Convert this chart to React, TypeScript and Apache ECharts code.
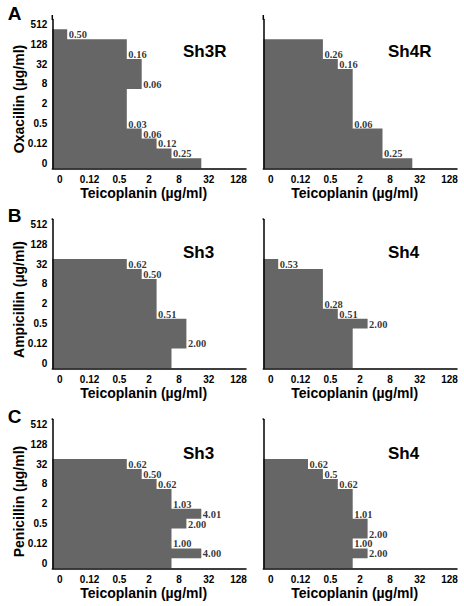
import React, { useEffect, useRef } from 'react';
import * as echarts from 'echarts';

// Axis categories (twofold dilutions, µg/ml)
const yCategories = ['0', '0.06', '0.12', '0.25', '0.5', '1', '2', '4', '8', '16', '32', '64', '128', '256', '512'];
const xCategories = ['0', '0.06', '0.12', '0.25', '0.5', '1', '2', '4', '8', '16', '32', '64', '128'];

// Growth extent per row (number of teicoplanin steps with growth), rows from bottom (0) to top (512)
const sh3rOxacillin = [10, 8, 7, 6, 5, 5, 5, 5, 6, 6, 6, 5, 5, 1, 0];
const sh4rOxacillin = [10, 8, 8, 8, 6, 6, 6, 6, 6, 6, 5, 4, 4, 0, 0];
const sh3Ampicillin = [8, 8, 9, 9, 9, 7, 7, 7, 7, 6, 5, 0, 0, 0, 0];
const sh4Ampicillin = [6, 6, 6, 6, 7, 5, 4, 4, 4, 4, 1, 0, 0, 0, 0];
const sh3Penicillin = [8, 10, 8, 8, 9, 10, 8, 8, 7, 6, 5, 0, 0, 0, 0];
const sh4Penicillin = [6, 7, 6, 7, 7, 6, 6, 6, 5, 4, 3, 0, 0, 0, 0];

// FIC index labels: [upper row index of the step, text]
const sh3rOxacillinFic: [number, string][] = [[13, '0.50'], [11, '0.16'], [8, '0.06'], [4, '0.03'], [3, '0.06'], [2, '0.12'], [1, '0.25']];
const sh4rOxacillinFic: [number, string][] = [[11, '0.26'], [10, '0.16'], [4, '0.06'], [1, '0.25']];
const sh3AmpicillinFic: [number, string][] = [[10, '0.62'], [9, '0.50'], [5, '0.51'], [2, '2.00']];
const sh4AmpicillinFic: [number, string][] = [[10, '0.53'], [6, '0.28'], [5, '0.51'], [4, '2.00']];
const sh3PenicillinFic: [number, string][] = [[10, '0.62'], [9, '0.50'], [8, '0.62'], [6, '1.03'], [5, '4.01'], [4, '2.00'], [2, '1.00'], [1, '4.00']];
const sh4PenicillinFic: [number, string][] = [[10, '0.62'], [9, '0.5'], [8, '0.62'], [5, '1.01'], [3, '2.00'], [2, '1.00'], [1, '2.00']];

const panelTitles = ['Sh3R', 'Sh4R', 'Sh3', 'Sh4', 'Sh3', 'Sh4'];
const rowLetters = ['A', 'B', 'C'];
const yTitles = ['Oxacillin (µg/ml)', 'Ampicillin (µg/ml)', 'Penicillin (µg/ml)'];
const xTitle = 'Teicoplanin (µg/ml)';

const panelData = [sh3rOxacillin, sh4rOxacillin, sh3Ampicillin, sh4Ampicillin, sh3Penicillin, sh4Penicillin];
const panelFic = [sh3rOxacillinFic, sh4rOxacillinFic, sh3AmpicillinFic, sh4AmpicillinFic, sh3PenicillinFic, sh4PenicillinFic];

const FILL = '#666666';
const SANS = 'Liberation Sans, Arial, sans-serif';
const SERIF = 'Liberation Serif, Times New Roman, serif';

function buildOption() {
  const colLeft = [52.3, 263.3];
  const rowTop = [19.4, 219.4, 419.4];
  const axisOvershoot = [4.4, 1, 1];
  const gw = 193.7;
  const gh = 148.9;
  const grid: any[] = [];
  const xAxis: any[] = [];
  const yAxis: any[] = [];
  const series: any[] = [];
  const graphic: any[] = [];

  panelData.forEach((data, i) => {
    const col = i % 2;
    const row = Math.floor(i / 2);
    const left = colLeft[col];
    const top = rowTop[row];
    grid.push({ left, top, width: gw, height: gh });
    xAxis.push({ type: 'value', gridIndex: i, min: 0, max: xCategories.length, show: false, position: 'top' });
    xAxis.push({
      type: 'category', gridIndex: i, data: xCategories, position: 'bottom', boundaryGap: true, z: 10,
      axisLine: { lineStyle: { color: '#000', width: 1.5 } },
      axisTick: { interval: 0, length: 4, lineStyle: { color: '#000', width: 1 } },
      axisLabel: { interval: 1, margin: 5, color: '#000', fontWeight: 'bold', fontSize: 10, fontFamily: SANS, lineHeight: 12 },
      splitLine: { show: false },
    });
    yAxis.push({
      type: 'category', gridIndex: i, data: yCategories, position: 'left', boundaryGap: true, z: 10,
      axisLine: { lineStyle: { color: '#000', width: 1.5 } },
      axisTick: { interval: 0, length: 3, lineStyle: { color: '#000', width: 1 } },
      axisLabel: { interval: 1, margin: 5, color: '#000', fontWeight: 'bold', fontSize: 10, fontFamily: SANS, show: col === 0 },
      splitLine: { show: false },
    });
    yAxis.push({ type: 'value', gridIndex: i, min: 0, max: yCategories.length, show: false, position: 'right' });

    series.push({
      type: 'custom', xAxisIndex: 2 * i, yAxisIndex: 2 * i + 1, silent: true, z: 2,
      data: data.map((v, r) => [v, r]),
      renderItem: (params: any, api: any) => {
        if (params.dataIndex !== 0) return null;
        const pts: number[][] = [api.coord([0, 0])];
        data.forEach((v, r) => {
          pts.push(api.coord([v, r]));
          pts.push(api.coord([v, r + 1]));
        });
        pts.push(api.coord([0, data.length]));
        return { type: 'polygon', shape: { points: pts }, style: { fill: FILL } };
      },
    });
    series.push({
      type: 'scatter', xAxisIndex: 2 * i, yAxisIndex: 2 * i + 1, silent: true, z: 3,
      symbolSize: 1, itemStyle: { color: 'rgba(0,0,0,0)' },
      label: {
        show: true, position: 'right', distance: 1, offset: [0, -4.5],
        formatter: (p: any) => p.data.name,
        color: '#000', fontFamily: SERIF, fontWeight: 'bold', fontSize: 10.5,
      },
      data: panelFic[i].map(([r, t]) => ({ name: t, value: [data[r], r] })),
    });

    // short extension of the y axis line above the plot area
    graphic.push({
      type: 'line', silent: true,
      shape: { x1: left, y1: top - axisOvershoot[row], x2: left, y2: top + 0.5 },
      style: { stroke: '#000', lineWidth: 1.5 },
    });
    graphic.push({
      type: 'text', x: col === 0 ? 183 : 388, y: [51, 252, 453][row],
      style: { text: panelTitles[i], fontSize: 17, fontWeight: 'bold', fontFamily: SANS, fill: '#000', textAlign: 'left', textVerticalAlign: 'middle' },
    });
    graphic.push({
      type: 'text', x: left + gw / 2 - 5.5, y: top + gh + 24.5,
      style: { text: xTitle, fontSize: 14, fontWeight: 'bold', fontFamily: SANS, fill: '#000', textAlign: 'center', textVerticalAlign: 'middle' },
    });
  });

  rowTop.forEach((top, row) => {
    graphic.push({
      type: 'text', x: 18.5, y: [99, 299.5, 501.5][row], rotation: Math.PI / 2,
      style: { text: yTitles[row], fontSize: 14, fontWeight: 'bold', fontFamily: SANS, fill: '#000', textAlign: 'center', textVerticalAlign: 'middle' },
    });
    graphic.push({
      type: 'text', x: 14.5, y: [13.5, 215, 416][row],
      style: { text: rowLetters[row], fontSize: 19, fontWeight: 'bold', fontFamily: SANS, fill: '#000', textAlign: 'center', textVerticalAlign: 'middle' },
    });
  });

  return { animation: false, backgroundColor: '#fff', grid, xAxis, yAxis, series, graphic };
}

export default function App() {
  const ref = useRef<HTMLDivElement>(null);
  useEffect(() => {
    if (!ref.current) return;
    const chart = echarts.init(ref.current, undefined, { renderer: 'svg' });
    chart.setOption(buildOption() as any);
    return () => chart.dispose();
  }, []);
  return <div ref={ref} style={{ position: 'absolute', left: 0, top: 0, width: 464, height: 606 }} />;
}
